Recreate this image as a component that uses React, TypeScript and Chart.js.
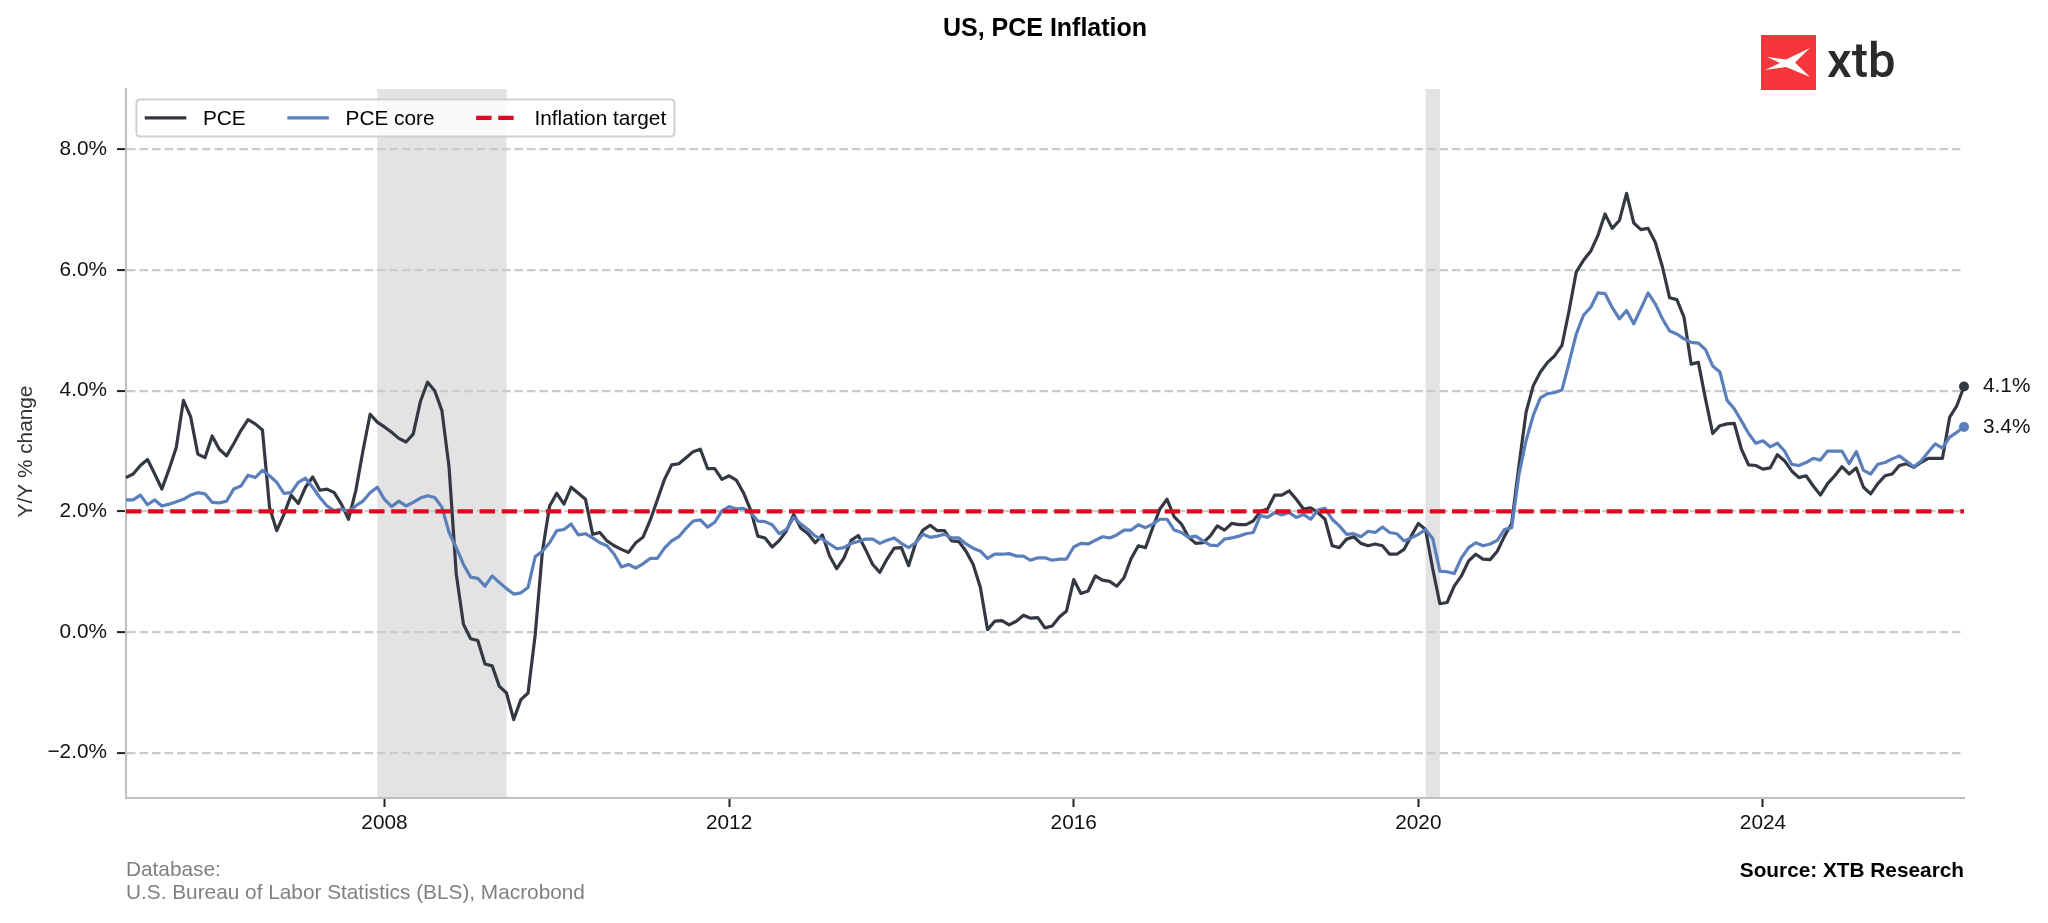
import React, { useEffect, useRef } from "react";
import { Chart, registerables } from "chart.js";

Chart.register(...registerables);

// ---------------- data ----------------
const START_YEAR = 2005;
const START_MONTH = 1;

// PCE, Y/Y % change, monthly from Jan 2005
const pce = [
  2.56, 2.62, 2.76, 2.86, 2.62, 2.37, 2.70, 3.06, 3.84, 3.57, 2.95, 2.89,
  3.25, 3.03, 2.92, 3.12, 3.34, 3.52, 3.45, 3.35, 2.06, 1.68, 1.95, 2.27,
  2.13, 2.40, 2.57, 2.35, 2.37, 2.31, 2.12, 1.87, 2.34, 3.00, 3.61, 3.48,
  3.40, 3.31, 3.21, 3.15, 3.28, 3.82, 4.14, 4.00, 3.67, 2.73, 0.96, 0.13,
  -0.11, -0.14, -0.53, -0.56, -0.90, -1.01, -1.45, -1.12, -1.01, -0.04, 1.34, 2.09,
  2.30, 2.12, 2.40, 2.30, 2.20, 1.62, 1.65, 1.51, 1.43, 1.37, 1.32, 1.48,
  1.57, 1.85, 2.19, 2.53, 2.77, 2.79, 2.89, 2.99, 3.03, 2.71, 2.71, 2.53,
  2.59, 2.52, 2.31, 2.02, 1.59, 1.56, 1.41, 1.52, 1.68, 1.95, 1.72, 1.63,
  1.48, 1.61, 1.26, 1.05, 1.23, 1.52, 1.60, 1.37, 1.12, 0.99, 1.21, 1.39,
  1.40, 1.10, 1.48, 1.69, 1.77, 1.68, 1.68, 1.51, 1.50, 1.34, 1.12, 0.74,
  0.04, 0.18, 0.19, 0.12, 0.18, 0.28, 0.23, 0.24, 0.07, 0.10, 0.25, 0.35,
  0.87, 0.64, 0.68, 0.93, 0.86, 0.84, 0.76, 0.90, 1.22, 1.43, 1.40, 1.73,
  2.04, 2.20, 1.91, 1.79, 1.57, 1.47, 1.48, 1.59, 1.76, 1.69, 1.80, 1.78,
  1.78, 1.84, 2.00, 2.04, 2.27, 2.27, 2.34, 2.20, 2.04, 2.06, 1.98, 1.87,
  1.43, 1.40, 1.54, 1.58, 1.47, 1.43, 1.46, 1.43, 1.29, 1.29, 1.37, 1.59,
  1.80, 1.70, 1.05, 0.47, 0.49, 0.76, 0.93, 1.18, 1.29, 1.21, 1.20, 1.34,
  1.59, 1.80, 2.75, 3.64, 4.08, 4.31, 4.47, 4.58, 4.75, 5.33, 5.97, 6.16,
  6.31, 6.57, 6.93, 6.69, 6.82, 7.27, 6.78, 6.67, 6.69, 6.46, 6.05, 5.54,
  5.51, 5.22, 4.44, 4.47, 3.86, 3.29, 3.42, 3.45, 3.46, 3.03, 2.77, 2.76,
  2.70, 2.72, 2.94, 2.84, 2.67, 2.56, 2.59, 2.42, 2.27, 2.46, 2.59, 2.74,
  2.62, 2.72, 2.40, 2.29, 2.46, 2.59, 2.62, 2.76, 2.79, 2.73, 2.81, 2.88,
  2.88, 2.88, 3.56, 3.75, 4.07,
];

// PCE core, Y/Y % change, monthly from Jan 2005
const pceCore = [
  2.19, 2.19, 2.27, 2.11, 2.19, 2.09, 2.12, 2.16, 2.20, 2.27, 2.31, 2.29,
  2.15, 2.14, 2.17, 2.37, 2.42, 2.60, 2.56, 2.68, 2.59, 2.48, 2.30, 2.31,
  2.48, 2.55, 2.40, 2.23, 2.09, 2.01, 2.04, 2.00, 2.09, 2.17, 2.31, 2.40,
  2.20, 2.08, 2.17, 2.09, 2.15, 2.22, 2.26, 2.23, 2.07, 1.65, 1.40, 1.12,
  0.91, 0.89, 0.76, 0.93, 0.82, 0.72, 0.63, 0.65, 0.74, 1.25, 1.34, 1.48,
  1.68, 1.70, 1.79, 1.61, 1.63, 1.56, 1.48, 1.43, 1.29, 1.08, 1.12, 1.06,
  1.13, 1.22, 1.22, 1.39, 1.51, 1.58, 1.72, 1.84, 1.86, 1.74, 1.82, 2.01,
  2.08, 2.04, 2.05, 1.98, 1.84, 1.83, 1.78, 1.63, 1.70, 1.90, 1.79, 1.70,
  1.59, 1.54, 1.46, 1.38, 1.40, 1.47, 1.50, 1.54, 1.54, 1.47, 1.52, 1.56,
  1.47, 1.40, 1.48, 1.62, 1.57, 1.59, 1.62, 1.56, 1.56, 1.46, 1.39, 1.34,
  1.22, 1.29, 1.29, 1.30, 1.26, 1.26, 1.19, 1.23, 1.23, 1.19, 1.21, 1.21,
  1.41, 1.47, 1.46, 1.52, 1.58, 1.56, 1.61, 1.69, 1.69, 1.78, 1.73, 1.79,
  1.87, 1.87, 1.69, 1.65, 1.57, 1.59, 1.51, 1.44, 1.43, 1.54, 1.56, 1.59,
  1.63, 1.65, 1.93, 1.90, 1.98, 1.94, 1.98, 1.90, 1.95, 1.87, 2.02, 2.05,
  1.87, 1.76, 1.62, 1.63, 1.58, 1.67, 1.65, 1.74, 1.65, 1.63, 1.51, 1.56,
  1.62, 1.70, 1.55, 1.01, 1.00, 0.97, 1.23, 1.40, 1.48, 1.43, 1.46, 1.52,
  1.70, 1.73, 2.60, 3.17, 3.59, 3.88, 3.95, 3.97, 4.01, 4.47, 4.94, 5.25,
  5.38, 5.62, 5.61, 5.38, 5.19, 5.33, 5.11, 5.36, 5.62, 5.44, 5.19, 4.99,
  4.94, 4.86, 4.80, 4.79, 4.68, 4.41, 4.31, 3.84, 3.70, 3.50, 3.29, 3.13,
  3.17, 3.07, 3.13, 3.00, 2.78, 2.76, 2.81, 2.88, 2.85, 3.00, 3.00, 3.00,
  2.79, 2.99, 2.68, 2.62, 2.78, 2.81, 2.87, 2.92, 2.83, 2.74, 2.83, 2.98,
  3.12, 3.05, 3.23, 3.31, 3.40,
];

const inflationTarget = 2;
const yTickValues = [-2, 0, 2, 4, 6, 8];
const xTickYears = [2008, 2012, 2016, 2020, 2024];
const recessions = [
  ["2007-12", "2009-06"],
  ["2020-02", "2020-04"],
];
const seriesLabels = ["PCE", "PCE core", "Inflation target"];
const titleText = "US, PCE Inflation";
const yAxisLabel = "Y/Y % change";
const footerLines = ["Database:", "U.S. Bureau of Labor Statistics (BLS), Macrobond"];
const sourceText = "Source: XTB Research";
const logoText = "xtb";

// ---------------- styles ----------------
const W = 2048;
const H = 923;
const FONT = "'Liberation Sans', Arial, Helvetica, sans-serif";
const FS = 20.8;
const C_PCE = "#343842";
const C_CORE = "#5b7fbb";
const C_TARGET = "#dc0a1e";
const TARGET_DASH = [15.4, 6.7];

function monthToX(ym: string): number {
  const [y, m] = ym.split("-").map(Number);
  return y + (m - 1) / 12;
}

function fmtPct(v: number): string {
  const s = Math.abs(v).toFixed(1) + "%";
  return v < 0 ? "\u2212" + s : s;
}

export default function App() {
  const ref = useRef<HTMLCanvasElement>(null);

  useEffect(() => {
    document.body.style.margin = "0";
    document.body.style.background = "#ffffff";
    const canvas = ref.current;
    if (!canvas) return;

    const xs = pce.map((_, i) => START_YEAR + (START_MONTH - 1 + i) / 12);
    const last = pce.length - 1;

    const decor = {
      id: "decor",
      beforeDraw(chart: any) {
        const { ctx, chartArea, scales } = chart;
        const x = scales.x;
        ctx.save();
        ctx.fillStyle = "#e3e3e3";
        for (const [a, b] of recessions) {
          const x1 = x.getPixelForValue(monthToX(a));
          const x2 = x.getPixelForValue(monthToX(b));
          ctx.fillRect(x1, chartArea.top, x2 - x1, chartArea.bottom - chartArea.top);
        }
        ctx.restore();
      },
      afterDraw(chart: any) {
        const { ctx, chartArea, scales } = chart;
        const x = scales.x;
        const y = scales.y;
        ctx.save();

        // title
        ctx.fillStyle = "#000";
        ctx.font = `bold 25px ${FONT}`;
        ctx.textAlign = "center";
        ctx.textBaseline = "middle";
        ctx.fillText(titleText, (chartArea.left + chartArea.right) / 2, 29);

        // logo
        const lx = 1761, ly = 35, ls = 55;
        ctx.fillStyle = "#f7363b";
        ctx.fillRect(lx, ly, ls, ls);
        ctx.fillStyle = "#ffffff";
        ctx.beginPath();
        const pts = [
          [6, 22], [25, 24.5], [49, 13], [34, 27.5], [49, 42], [25, 32], [4, 35], [19, 28],
        ];
        pts.forEach(([px, py], i) => (i ? ctx.lineTo(lx + px, ly + py) : ctx.moveTo(lx + px, ly + py)));
        ctx.closePath();
        ctx.fill();
        ctx.fillStyle = "#2b2b2b";
        ctx.font = `500 49px Roboto, 'Open Sans', ${FONT}`;
        ctx.textAlign = "left";
        ctx.textBaseline = "alphabetic";
        ctx.fillText(logoText, 1827, 77);

        // y axis label
        ctx.save();
        ctx.translate(26, (chartArea.top + chartArea.bottom) / 2 + 8);
        ctx.rotate(-Math.PI / 2);
        ctx.fillStyle = "#333";
        ctx.font = `${FS}px ${FONT}`;
        ctx.textAlign = "center";
        ctx.textBaseline = "middle";
        ctx.fillText(yAxisLabel, 0, 0);
        ctx.restore();

        // end labels
        const ends = [
          { v: pce[last], c: "#111" },
          { v: pceCore[last], c: "#111" },
        ];
        ctx.font = `${FS}px ${FONT}`;
        ctx.textAlign = "left";
        ctx.textBaseline = "middle";
        for (const e of ends) {
          ctx.fillStyle = e.c;
          ctx.fillText(e.v.toFixed(1) + "%", x.getPixelForValue(xs[last]) + 19, y.getPixelForValue(e.v));
        }

        // legend
        const em = FS;
        const bx = chartArea.left + 0.5 * em;
        const by = chartArea.top + 0.5 * em;
        ctx.font = `${FS}px ${FONT}`;
        const widths = seriesLabels.map((t) => ctx.measureText(t).width);
        const handleLen = 2 * em;
        const pad = 0.4 * em;
        const textPad = 0.8 * em;
        const colSp = 2 * em;
        let bw = pad * 2;
        widths.forEach((w, i) => {
          bw += handleLen + textPad + w + (i < widths.length - 1 ? colSp : 0);
        });
        const bh = 37;
        const r = 4;
        ctx.beginPath();
        ctx.moveTo(bx + r, by);
        ctx.lineTo(bx + bw - r, by);
        ctx.quadraticCurveTo(bx + bw, by, bx + bw, by + r);
        ctx.lineTo(bx + bw, by + bh - r);
        ctx.quadraticCurveTo(bx + bw, by + bh, bx + bw - r, by + bh);
        ctx.lineTo(bx + r, by + bh);
        ctx.quadraticCurveTo(bx, by + bh, bx, by + bh - r);
        ctx.lineTo(bx, by + r);
        ctx.quadraticCurveTo(bx, by, bx + r, by);
        ctx.closePath();
        ctx.fillStyle = "rgba(255,255,255,0.8)";
        ctx.fill();
        ctx.strokeStyle = "#d0d0d0";
        ctx.lineWidth = 2;
        ctx.stroke();

        const cy = by + bh / 2;
        const styles = [
          { c: C_PCE, w: 3.2, dash: [] as number[] },
          { c: C_CORE, w: 3.2, dash: [] as number[] },
          { c: C_TARGET, w: 4.2, dash: TARGET_DASH },
        ];
        let cx = bx + pad;
        seriesLabels.forEach((t, i) => {
          const s = styles[i];
          ctx.beginPath();
          ctx.setLineDash(s.dash);
          ctx.strokeStyle = s.c;
          ctx.lineWidth = s.w;
          ctx.lineCap = "butt";
          ctx.moveTo(cx, cy);
          ctx.lineTo(cx + handleLen, cy);
          ctx.stroke();
          ctx.setLineDash([]);
          cx += handleLen + textPad;
          ctx.fillStyle = "#000";
          ctx.textAlign = "left";
          ctx.textBaseline = "middle";
          ctx.fillText(t, cx, cy + 1);
          cx += widths[i] + colSp;
        });

        // footer
        ctx.font = `${FS}px ${FONT}`;
        ctx.fillStyle = "#808080";
        ctx.textAlign = "left";
        ctx.textBaseline = "middle";
        ctx.fillText(footerLines[0], chartArea.left, 870);
        ctx.fillText(footerLines[1], chartArea.left, 893);
        ctx.font = `bold ${FS}px ${FONT}`;
        ctx.fillStyle = "#000";
        ctx.textAlign = "right";
        ctx.fillText(sourceText, chartArea.right, 871);

        ctx.restore();
      },
    };

    const chart = new Chart(canvas, {
      type: "line",
      data: {
        datasets: [
          {
            label: seriesLabels[2],
            data: [
              { x: xs[0], y: inflationTarget },
              { x: xs[last], y: inflationTarget },
            ],
            borderColor: C_TARGET,
            borderWidth: 4.2,
            borderDash: TARGET_DASH,
            borderCapStyle: "butt",
            pointRadius: 0,
            order: 0,
            clip: false,
          },
          {
            label: seriesLabels[1],
            data: pceCore.map((v, i) => ({ x: xs[i], y: v })),
            borderColor: C_CORE,
            borderWidth: 3.2,
            borderJoinStyle: "round",
            pointRadius: (c: any) => (c.dataIndex === last ? 5 : 0),
            pointBackgroundColor: C_CORE,
            pointBorderWidth: 0,
            order: 1,
            clip: false,
          },
          {
            label: seriesLabels[0],
            data: pce.map((v, i) => ({ x: xs[i], y: v })),
            borderColor: C_PCE,
            borderWidth: 3.2,
            borderJoinStyle: "round",
            pointRadius: (c: any) => (c.dataIndex === last ? 5 : 0),
            pointBackgroundColor: C_PCE,
            pointBorderWidth: 0,
            order: 2,
            clip: false,
          },
        ],
      },
      options: {
        animation: false,
        responsive: false,
        devicePixelRatio: 1,
        events: [],
        layout: { padding: { top: 89, right: 84, left: 0, bottom: 0 } },
        plugins: {
          legend: { display: false },
          title: { display: false },
          tooltip: { enabled: false },
        },
        elements: { line: { tension: 0 } },
        scales: {
          x: {
            type: "linear",
            min: xs[0],
            max: xs[last],
            afterBuildTicks: (s: any) => {
              s.ticks = xTickYears.map((v) => ({ value: v }));
            },
            afterFit: (s: any) => {
              s.height = H - 798;
            },
            ticks: {
              autoSkip: false,
              maxRotation: 0,
              color: "#111",
              font: { family: FONT, size: FS },
              padding: 4,
              callback: (v: any) => String(v),
            },
            grid: {
              drawOnChartArea: false,
              drawTicks: true,
              tickLength: 9,
              tickColor: "#222",
              tickWidth: 2,
            },
            border: { display: true, color: "#bfbfbf", width: 2 },
          },
          y: {
            type: "linear",
            min: -2.75,
            max: 9.0,
            afterBuildTicks: (s: any) => {
              s.ticks = yTickValues.map((v) => ({ value: v }));
            },
            afterFit: (s: any) => {
              s.width = 126;
            },
            ticks: {
              color: "#111",
              font: { family: FONT, size: FS },
              padding: 10,
              callback: (v: any) => fmtPct(Number(v)),
            },
            grid: {
              color: "#cbcbcb",
              lineWidth: 2.2,
              drawTicks: true,
              tickLength: 9,
              tickColor: "#222",
              tickWidth: 2,
              tickBorderDash: [],
            },
            border: { display: true, color: "#bfbfbf", width: 2, dash: [8.5, 4] },
          },
        },
      },
      plugins: [decor],
    } as any);

    return () => chart.destroy();
  }, []);

  return (
    <div style={{ width: W, height: H, background: "#fff", position: "relative" }}>
      <canvas ref={ref} width={W} height={H} style={{ width: W, height: H, display: "block" }} />
    </div>
  );
}
